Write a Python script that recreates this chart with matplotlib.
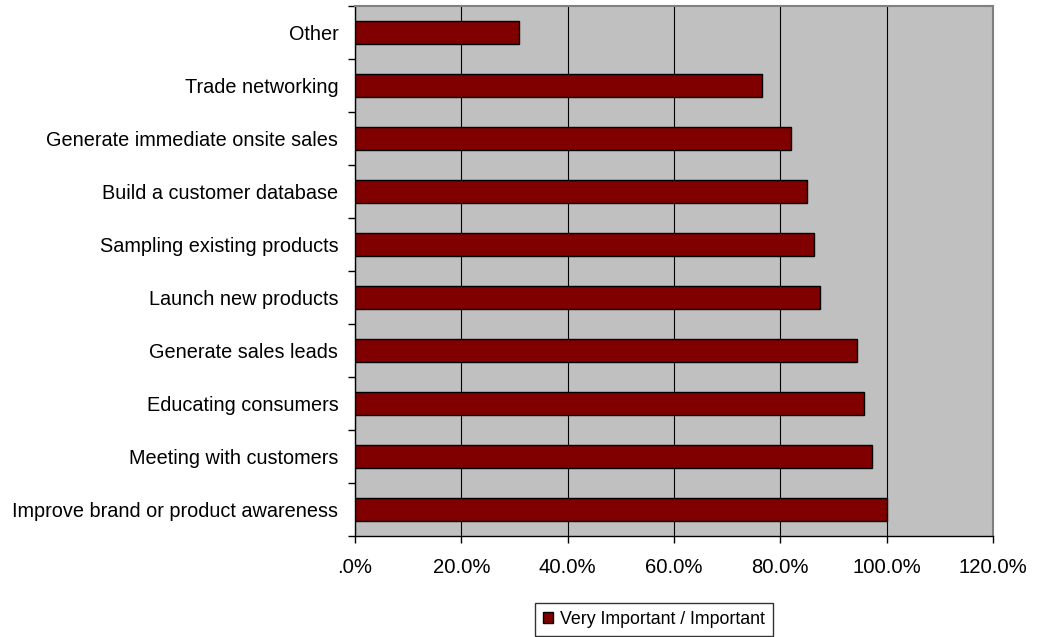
import numpy as np
import matplotlib
matplotlib.use("Agg")
import matplotlib.pyplot as plt
from matplotlib.ticker import FuncFormatter

plt.rcParams['font.family'] = ['Liberation Sans', 'DejaVu Sans']

categories = [
    "Improve brand or product awareness",
    "Meeting with customers",
    "Educating consumers",
    "Generate sales leads",
    "Launch new products",
    "Sampling existing products",
    "Build a customer database",
    "Generate immediate onsite sales",
    "Trade networking",
    "Other",
]
values = [100.0, 97.2, 95.8, 94.5, 87.5, 86.3, 85.1, 82.1, 76.5, 30.9]
series_name = "Very Important / Important"

fig = plt.figure(figsize=(10.42, 6.37), dpi=100)
ax = fig.add_axes([355 / 1042, 1 - 536 / 637, (993 - 355) / 1042, (536 - 6) / 637])
ax.set_facecolor("#C0C0C0")

y = np.arange(len(categories))
ax.barh(y, values, height=0.42, color="#800000", edgecolor="black",
        linewidth=1.0, label=series_name, zorder=3)

ax.set_xlim(0, 120)
ax.set_ylim(-0.5, len(categories) - 0.5)
ax.set_xticks(np.arange(0, 121, 20))
ax.xaxis.set_major_formatter(FuncFormatter(lambda v, p: ".0%" if v == 0 else f"{v:.1f}%"))
ax.grid(axis="x", color="black", linewidth=0.8, zorder=1)

# category labels centred on bars, tick marks between categories
ax.set_yticks(y)
ax.set_yticklabels(categories)
ax.set_yticks(np.arange(-0.5, len(categories), 1), minor=True)
ax.tick_params(axis="y", which="major", length=0, pad=12, labelsize=14.3)
ax.tick_params(axis="y", which="minor", length=5, width=1, direction="out")
ax.tick_params(axis="x", length=5, width=1, direction="out", pad=11, labelsize=14.6)

for s in ["top", "right"]:
    ax.spines[s].set_color("#808080")
    ax.spines[s].set_linewidth(1.5)
for s in ["left", "bottom"]:
    ax.spines[s].set_color("black")
    ax.spines[s].set_linewidth(1)

leg = fig.legend(loc="center", bbox_to_anchor=(654 / 1042, 1 - 619 / 637),
                 fontsize=12.8, frameon=True, fancybox=False, handlelength=0.6,
                 handleheight=0.6, handletextpad=0.4, borderpad=0.45)
leg.get_frame().set_edgecolor("black")
leg.get_frame().set_linewidth(1)

fig.savefig("out.png", dpi=100)
